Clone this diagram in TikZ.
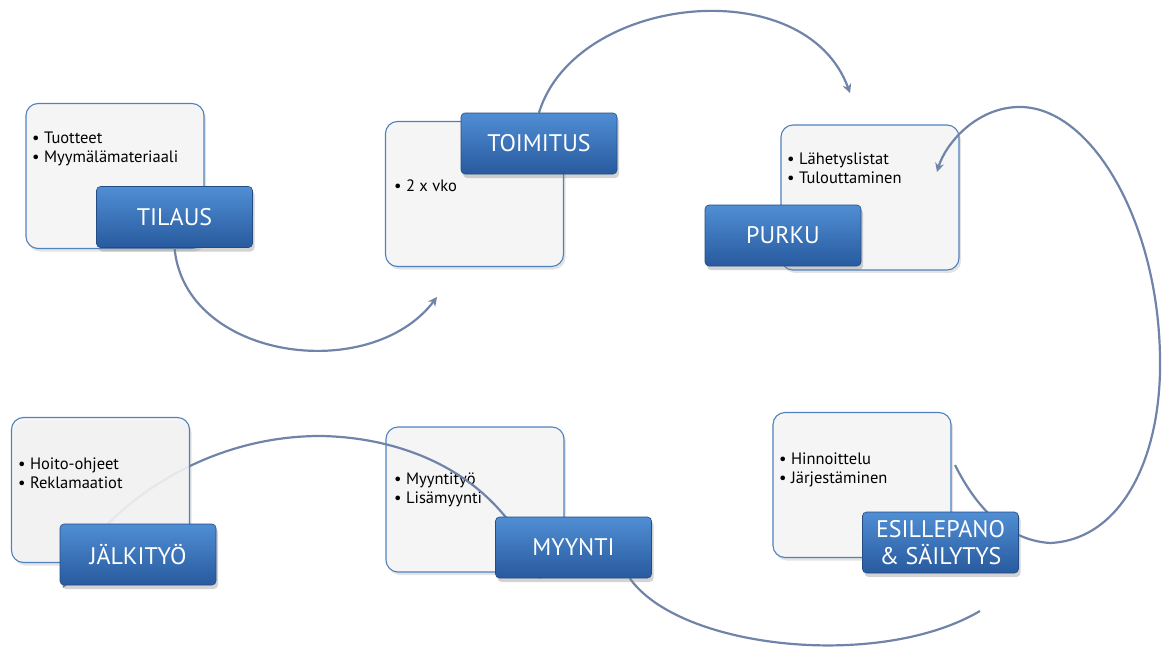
\documentclass[tikz,border=0pt]{standalone}
\usepackage{fontspec}
\setmainfont{PT Sans}
\usetikzlibrary{arrows.meta,shadows}

\definecolor{cardline}{RGB}{79,129,189}
\definecolor{cardfill}{RGB}{245,245,245}
\definecolor{boxtop}{RGB}{80,142,212}
\definecolor{boxbot}{RGB}{40,90,158}
\definecolor{boxline}{RGB}{36,76,132}
\definecolor{tubecol}{RGB}{112,132,170}

\pgfdeclarelayer{cards}
\pgfdeclarelayer{links}
\pgfsetlayers{cards,links,main}

\begin{document}
\begin{tikzpicture}[x=1pt,y=-1pt,
   card/.style={draw=cardline,line width=1.1pt,fill=cardfill,rounded corners=12pt,
      minimum width=178pt,minimum height=145pt,
      drop shadow={opacity=.22,shadow xshift=2pt,shadow yshift=-3pt}},
   stage/.style={draw=boxline,line width=.6pt,top color=boxtop,bottom color=boxbot,
      rounded corners=4pt,minimum width=156pt,minimum height=61pt,text=white,
      align=center,font=\fontsize{24}{27}\selectfont,
      drop shadow={opacity=.35,shadow xshift=2pt,shadow yshift=-4pt}},
   items/.style={anchor=north west,inner sep=0pt,align=left,text=black,
      font=\fontsize{16.5}{19}\selectfont},
   flowline/.style={draw=tubecol,line width=2.2pt},
   flow/.style={flowline,-{Stealth[length=9pt,width=9pt]}}]
   \useasboundingbox (0,0) rectangle (1168,648);
   %\draw[very thin,gray,step=50] (0,0) grid (1168,648);

   % stages
   \node[stage] (tilaus) at (174.5,217) {TILAUS};
   \node[stage] (toimitus) at (539,143.5) {TOIMITUS};
   \node[stage] (purku) at (783,235.5) {PURKU};
   \node[stage] (myynti) at (573.5,547.5) {MYYNTI};
   \node[stage] (esillepano) at (940.5,542.5) {ESILLEPANO\\\& SÄILYTYS};

   \begin{pgfonlayer}{cards}
   \node[card] (tilauscard) at (115,176) {};
   \node[card] (toimituscard) at (474.5,194) {};
   \node[card] (purkucard) at (870,197.5) {};
   \node[card] (myynticard) at (475,499.5) {};
   \node[card] (esillecard) at (862,485) {};
   \node[items] (tilaustxt) at (32,132) {\textbullet\ Tuotteet\\\textbullet\ Myymälämateriaali};
   \node[items] (toimitustxt) at (394,180) {\textbullet\ 2 x vko};
   \node[items] (purkutxt) at (787,153) {\textbullet\ Lähetyslistat\\\textbullet\ Tulouttaminen};
   \node[items] (myyntitxt) at (394,473) {\textbullet\ Myyntityö\\\textbullet\ Lisämyynti};
   \node[items] (esilletxt) at (779,453) {\textbullet\ Hinnoittelu\\\textbullet\ Järjestäminen};
   \end{pgfonlayer}

   % connectors
   \begin{pgfonlayer}{links}
   \coordinate (a1) at (437,297);
   \coordinate (b1) at (850,93);
   \coordinate (c0) at (955,465);
   \coordinate (c1) at (937,172);
   \coordinate (d1) at (980,611);
   \coordinate (e1) at (63,588);
   \draw[flow] (tilaus.south) .. controls +(10,112) and +(-67,88) .. (a1);
   \draw[flow] (toimitus.north) .. controls +(36,-118) and +(-45,-123) .. (b1);
   \draw[flow] (c0) .. controls (975,505) and (1005,540) .. (1050,543)
      .. controls (1120,540) and (1162,460) .. (1160,357)
      .. controls (1158,220) and (1090,105) .. (1018,107)
      .. controls (975,108) and (945,145) .. (c1);
   \draw[flowline] ([xshift=-22pt]myynti.south east) .. controls +(50,71) and +(-100,59) .. (d1);
   \draw[flow] ([xshift=45pt]myynti.south west) .. controls +(-40,-108) and (400,437) .. (320,436)
      .. controls (200,436) and (100,510) .. (e1);
   \end{pgfonlayer}

   % last card sits over its connector
   \node[card,fill opacity=.88] (jalkicard) at (100.5,490) {};
   \node[items] (jalkitxt) at (18,458) {\textbullet\ Hoito-ohjeet\\\textbullet\ Reklamaatiot};
   \node[stage] (jalkityo) at (138,554.5) {JÄLKITYÖ};
\end{tikzpicture}
\end{document}
